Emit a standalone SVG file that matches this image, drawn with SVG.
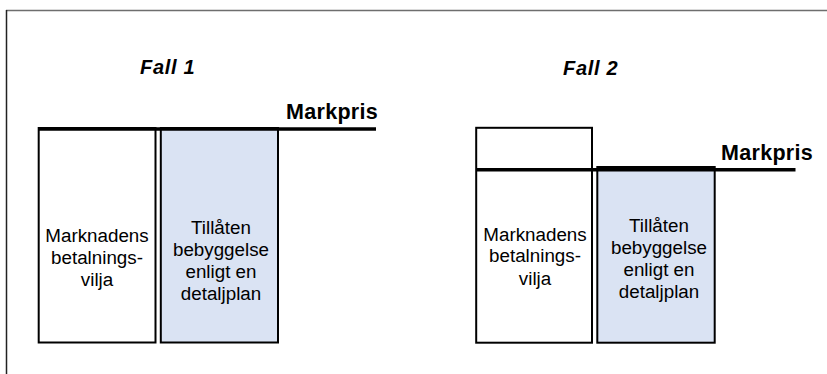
<svg xmlns="http://www.w3.org/2000/svg" width="827" height="374" viewBox="0 0 827 374">
  <style>
    .frame-top { stroke: #6e6e6e; stroke-width: 1.5; }
    .frame-left { stroke: #222; stroke-width: 1.5; }
    .box { stroke: #000; stroke-width: 2; }
    .plain { fill: #ffffff; }
    .plan { fill: #dae3f3; }
    .price { stroke: #000; stroke-width: 3.5; fill: none; }
    .title { font-family: "Liberation Sans", Arial, sans-serif; font-size: 20px; font-weight: bold; font-style: italic; letter-spacing: 0.7px; fill: #000; }
    .markpris { font-family: "Liberation Sans", Arial, sans-serif; font-size: 21.5px; font-weight: bold; letter-spacing: 0.3px; fill: #000; }
    .label { font-family: "Liberation Sans", Arial, sans-serif; font-size: 18.8px; fill: #000; text-anchor: middle; }
  </style>

  <!-- outer frame (only top and left edges fall inside the canvas) -->
  <line class="frame-top" x1="6" y1="10.5" x2="827" y2="10.5"/>
  <line class="frame-left" x1="6.5" y1="10" x2="6.5" y2="374"/>

  <!-- Case 1 -->
  <text class="title" x="140" y="74">Fall 1</text>

  <g id="fall1-betalningsvilja">
    <rect class="box plain" x="38.7" y="128" width="116.8" height="214.5"/>
    <text class="label" x="97" y="241.5">Marknadens</text>
    <text class="label" x="97" y="263.5">betalnings-</text>
    <text class="label" x="97" y="285.5">vilja</text>
  </g>

  <g id="fall1-bebyggelse">
    <rect class="box plan" x="160.8" y="128" width="117.2" height="214.5"/>
    <text class="label" x="221" y="233.5">Tillåten</text>
    <text class="label" x="221" y="255.5">bebyggelse</text>
    <text class="label" x="221" y="277.5">enligt en</text>
    <text class="label" x="221" y="299.5">detaljplan</text>
  </g>

  <!-- Case 2 -->
  <text class="title" x="563" y="75">Fall 2</text>

  <g id="fall2-betalningsvilja">
    <rect class="box plain" x="476.2" y="127.8" width="115.8" height="214.9"/>
    <text class="label" x="535" y="240.7">Marknadens</text>
    <text class="label" x="535" y="262">betalnings-</text>
    <text class="label" x="535" y="284.5">vilja</text>
  </g>

  <g id="fall2-bebyggelse">
    <rect class="box plan" x="597.3" y="167" width="117.4" height="175.7"/>
    <text class="label" x="659" y="231.5">Tillåten</text>
    <text class="label" x="659" y="253.5">bebyggelse</text>
    <text class="label" x="659" y="276">enligt en</text>
    <text class="label" x="659" y="298">detaljplan</text>
  </g>

  <!-- land-price levels -->
  <g id="connectors">
    <line class="price" x1="38" y1="129" x2="376" y2="129"/>
    <line class="price" x1="476" y1="169.8" x2="795.5" y2="169.8"/>
  </g>
  <text class="markpris" x="286" y="119">Markpris</text>
  <text class="markpris" x="721" y="159.5">Markpris</text>
</svg>
